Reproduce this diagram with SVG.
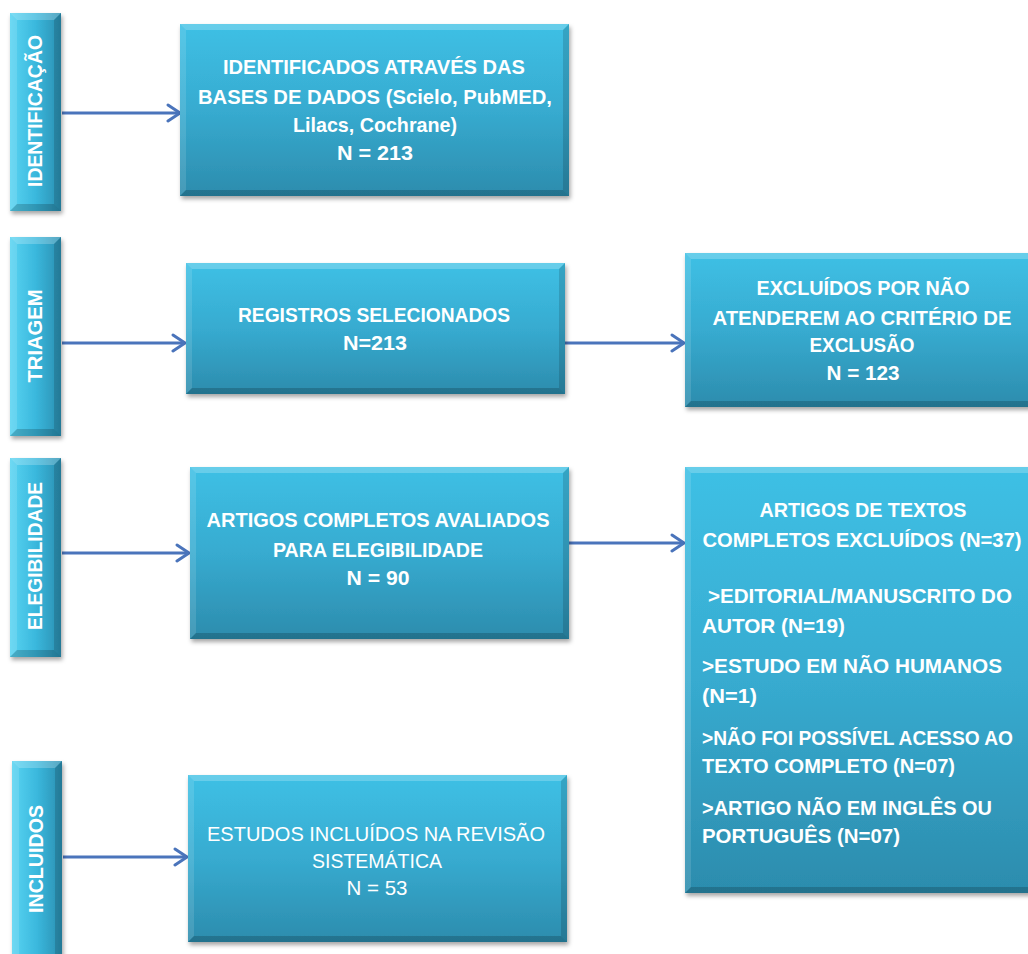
<svg xmlns="http://www.w3.org/2000/svg" width="1028" height="954" viewBox="0 0 1028 954">
<defs>
<linearGradient id="gBox" x1="0" y1="0" x2="0" y2="1">
<stop offset="0" stop-color="#3ec0e5"/>
<stop offset="0.5" stop-color="#37abd0"/>
<stop offset="1" stop-color="#2c8cad"/>
</linearGradient>
<linearGradient id="gBar" x1="0" y1="0" x2="1" y2="0">
<stop offset="0" stop-color="#5ad4f2"/>
<stop offset="0.5" stop-color="#3ab8dd"/>
<stop offset="1" stop-color="#2a8eb0"/>
</linearGradient>
<filter id="sh" x="-10%" y="-10%" width="130%" height="130%">
<feDropShadow dx="1.5" dy="3" stdDeviation="2" flood-color="#000" flood-opacity="0.35"/>
</filter>
<marker id="arr" markerWidth="16" markerHeight="20" refX="14" refY="10" orient="auto" markerUnits="userSpaceOnUse">
<path d="M2,2 L14,10 L2,18" fill="none" stroke="#4a74bb" stroke-width="3" stroke-linejoin="miter" stroke-linecap="round"/>
</marker>
</defs>
<style>
.box{fill:url(#gBox);filter:url(#sh)}
.bar{fill:url(#gBar);filter:url(#sh)}
.hl{fill:#ffffff;opacity:0.22}
.hl2{fill:#ffffff;opacity:0.12}
.dk{fill:#000000;opacity:0.14}
.dk2{fill:#000000;opacity:0.18}
.t{font-family:"Liberation Sans",Arial,sans-serif;font-size:21px;font-weight:bold;fill:#ffffff}
.r{font-weight:normal}
.side{font-family:"Liberation Sans",Arial,sans-serif;font-size:20px;font-weight:bold;fill:#ffffff}
.con{stroke:#4a74bb;stroke-width:3;fill:none;marker-end:url(#arr)}
</style>

<g id="connectors">
<line class="con" x1="62" y1="113" x2="180" y2="113"/>
<line class="con" x1="62" y1="343" x2="185" y2="343"/>
<line class="con" x1="62" y1="553" x2="189" y2="553"/>
<line class="con" x1="63" y1="857" x2="187" y2="857"/>
<line class="con" x1="565" y1="343" x2="684" y2="343"/>
<line class="con" x1="569" y1="543" x2="684" y2="543"/>
</g>

<g id="bar-identificacao">
<rect class="bar" x="10" y="13" width="51" height="198"/>
<polygon class="hl" points="10,13 61,13 54,20 17,20"/>
<polygon class="hl2" points="10,13 17,20 17,204 10,211"/>
<polygon class="dk" points="61,13 61,211 54,204 54,20"/>
<polygon class="dk2" points="10,211 61,211 54,204 17,204"/>
<text class="side" transform="translate(42,111) rotate(-90)" text-anchor="middle" textLength="152" lengthAdjust="spacingAndGlyphs">IDENTIFICAÇÃO</text>
</g>

<g id="bar-triagem">
<rect class="bar" x="10" y="237" width="51" height="199"/>
<polygon class="hl" points="10,237 61,237 54,244 17,244"/>
<polygon class="hl2" points="10,237 17,244 17,429 10,436"/>
<polygon class="dk" points="61,237 61,436 54,429 54,244"/>
<polygon class="dk2" points="10,436 61,436 54,429 17,429"/>
<text class="side" transform="translate(42,336) rotate(-90)" text-anchor="middle" textLength="93" lengthAdjust="spacingAndGlyphs">TRIAGEM</text>
</g>

<g id="bar-elegibilidade">
<rect class="bar" x="10" y="458" width="51" height="199"/>
<polygon class="hl" points="10,458 61,458 54,465 17,465"/>
<polygon class="hl2" points="10,458 17,465 17,650 10,657"/>
<polygon class="dk" points="61,458 61,657 54,650 54,465"/>
<polygon class="dk2" points="10,657 61,657 54,650 17,650"/>
<text class="side" transform="translate(42,556) rotate(-90)" text-anchor="middle" textLength="148" lengthAdjust="spacingAndGlyphs">ELEGIBILIDADE</text>
</g>

<g id="bar-incluidos">
<rect class="bar" x="12" y="761" width="50" height="200"/>
<polygon class="hl" points="12,761 62,761 55,768 19,768"/>
<polygon class="hl2" points="12,761 19,768 19,961 12,961"/>
<polygon class="dk" points="62,761 62,961 55,961 55,768"/>
<text class="side" transform="translate(43,859) rotate(-90)" text-anchor="middle" textLength="108" lengthAdjust="spacingAndGlyphs">INCLUIDOS</text>
</g>

<g id="box-identificados">
<rect class="box" x="180" y="24" width="389" height="172"/>
<polygon class="hl" points="180,24 569,24 563,30 186,30"/>
<polygon class="hl2" points="180,24 186,30 186,190 180,196"/>
<polygon class="dk" points="569,24 569,196 563,190 563,30"/>
<polygon class="dk2" points="180,196 569,196 563,190 186,190"/>
<text class="t" x="374" y="74" text-anchor="middle" textLength="302" lengthAdjust="spacingAndGlyphs">IDENTIFICADOS ATRAVÉS DAS</text>
<text class="t" x="375" y="104" text-anchor="middle" textLength="354" lengthAdjust="spacingAndGlyphs">BASES DE DADOS (Scielo, PubMED,</text>
<text class="t" x="375" y="132" text-anchor="middle" textLength="164" lengthAdjust="spacingAndGlyphs">Lilacs, Cochrane)</text>
<text class="t" x="375" y="160" text-anchor="middle" textLength="76" lengthAdjust="spacingAndGlyphs">N = 213</text>
</g>

<g id="box-registros">
<rect class="box" x="186" y="263" width="379" height="131"/>
<polygon class="hl" points="186,263 565,263 559,269 192,269"/>
<polygon class="hl2" points="186,263 192,269 192,388 186,394"/>
<polygon class="dk" points="565,263 565,394 559,388 559,269"/>
<polygon class="dk2" points="186,394 565,394 559,388 192,388"/>
<text class="t" x="374" y="322" text-anchor="middle" textLength="272" lengthAdjust="spacingAndGlyphs">REGISTROS SELECIONADOS</text>
<text class="t" x="375" y="350" text-anchor="middle" textLength="64" lengthAdjust="spacingAndGlyphs">N=213</text>
</g>

<g id="box-excluidos">
<rect class="box" x="685" y="253" width="350" height="154"/>
<polygon class="hl" points="685,253 1035,253 1029,259 691,259"/>
<polygon class="hl2" points="685,253 691,259 691,401 685,407"/>
<polygon class="dk2" points="685,407 1035,407 1029,401 691,401"/>
<text class="t" x="863" y="295" text-anchor="middle" textLength="213" lengthAdjust="spacingAndGlyphs">EXCLUÍDOS POR NÃO</text>
<text class="t" x="862" y="325" text-anchor="middle" textLength="299" lengthAdjust="spacingAndGlyphs">ATENDEREM AO CRITÉRIO DE</text>
<text class="t" x="862" y="352" text-anchor="middle" textLength="105" lengthAdjust="spacingAndGlyphs">EXCLUSÃO</text>
<text class="t" x="863" y="380" text-anchor="middle" textLength="73" lengthAdjust="spacingAndGlyphs">N = 123</text>
</g>

<g id="box-artigos">
<rect class="box" x="190" y="467" width="379" height="172"/>
<polygon class="hl" points="190,467 569,467 563,473 196,473"/>
<polygon class="hl2" points="190,467 196,473 196,633 190,639"/>
<polygon class="dk" points="569,467 569,639 563,633 563,473"/>
<polygon class="dk2" points="190,639 569,639 563,633 196,633"/>
<text class="t" x="378" y="527" text-anchor="middle" textLength="343" lengthAdjust="spacingAndGlyphs">ARTIGOS COMPLETOS AVALIADOS</text>
<text class="t" x="378" y="557" text-anchor="middle" textLength="210" lengthAdjust="spacingAndGlyphs">PARA ELEGIBILIDADE</text>
<text class="t" x="378" y="585" text-anchor="middle" textLength="63" lengthAdjust="spacingAndGlyphs">N = 90</text>
</g>

<g id="box-textos-excluidos">
<rect class="box" x="685" y="467" width="350" height="426"/>
<polygon class="hl" points="685,467 1035,467 1029,473 691,473"/>
<polygon class="hl2" points="685,467 691,473 691,887 685,893"/>
<polygon class="dk2" points="685,893 1035,893 1029,887 691,887"/>
<text class="t" x="863" y="517" text-anchor="middle" textLength="207" lengthAdjust="spacingAndGlyphs">ARTIGOS DE TEXTOS</text>
<text class="t" x="862" y="547" text-anchor="middle" textLength="319" lengthAdjust="spacingAndGlyphs">COMPLETOS EXCLUÍDOS (N=37)</text>
<text class="t" x="708" y="603" textLength="304" lengthAdjust="spacingAndGlyphs">&gt;EDITORIAL/MANUSCRITO DO</text>
<text class="t" x="702" y="633" textLength="143" lengthAdjust="spacingAndGlyphs">AUTOR (N=19)</text>
<text class="t" x="702" y="673" textLength="300" lengthAdjust="spacingAndGlyphs">&gt;ESTUDO EM NÃO HUMANOS</text>
<text class="t" x="702" y="703" textLength="55" lengthAdjust="spacingAndGlyphs">(N=1)</text>
<text class="t" x="702" y="745" textLength="311" lengthAdjust="spacingAndGlyphs">&gt;NÃO FOI POSSÍVEL ACESSO AO</text>
<text class="t" x="702" y="773" textLength="253" lengthAdjust="spacingAndGlyphs">TEXTO COMPLETO (N=07)</text>
<text class="t" x="702" y="815" textLength="290" lengthAdjust="spacingAndGlyphs">&gt;ARTIGO NÃO EM INGLÊS OU</text>
<text class="t" x="702" y="843" textLength="198" lengthAdjust="spacingAndGlyphs">PORTUGUÊS (N=07)</text>
</g>

<g id="box-incluidos">
<rect class="box" x="188" y="775" width="379" height="167"/>
<polygon class="hl" points="188,775 567,775 561,781 194,781"/>
<polygon class="hl2" points="188,775 194,781 194,936 188,942"/>
<polygon class="dk" points="567,775 567,942 561,936 561,781"/>
<polygon class="dk2" points="188,942 567,942 561,936 194,936"/>
<text class="t r" x="376" y="841" text-anchor="middle" textLength="338" lengthAdjust="spacingAndGlyphs">ESTUDOS INCLUÍDOS NA REVISÃO</text>
<text class="t r" x="377" y="868" text-anchor="middle" textLength="130" lengthAdjust="spacingAndGlyphs">SISTEMÁTICA</text>
<text class="t r" x="377" y="895" text-anchor="middle" textLength="61" lengthAdjust="spacingAndGlyphs">N = 53</text>
</g>
</svg>
